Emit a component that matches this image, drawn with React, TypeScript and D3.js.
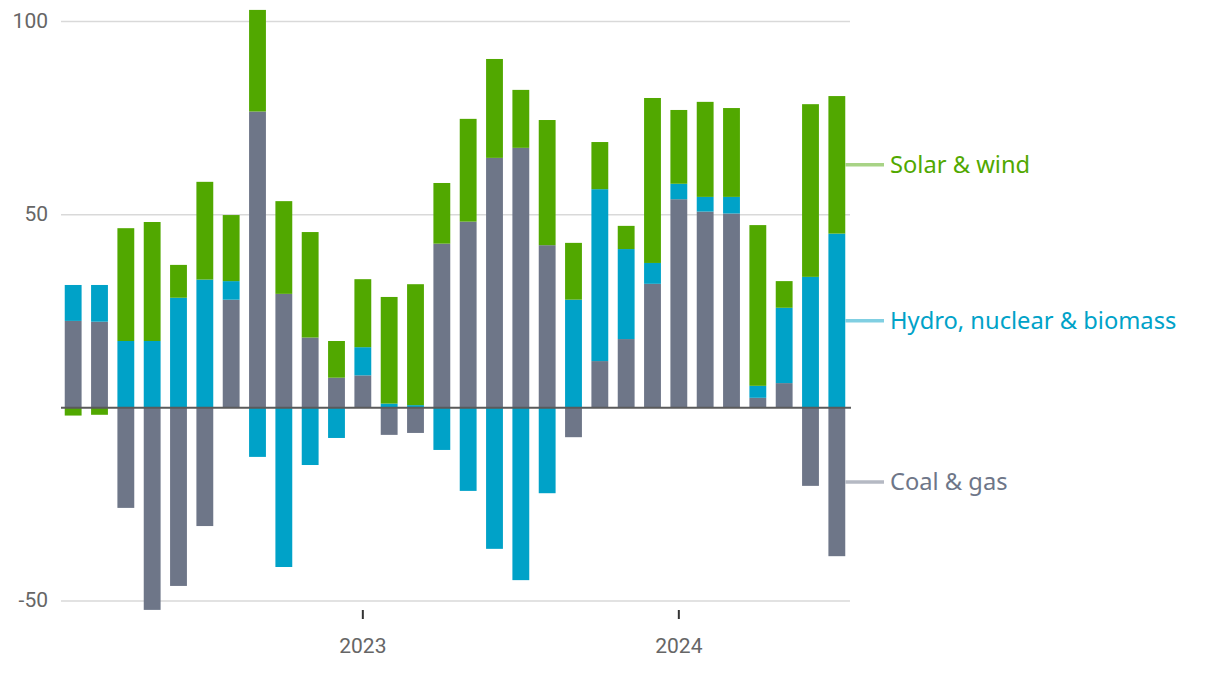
import React, { useEffect } from 'react'
import * as d3 from 'd3'

// monthly change, Feb 2022 .. Jul 2024
const months = [
  '2022-02', '2022-03', '2022-04', '2022-05', '2022-06', '2022-07', '2022-08', '2022-09', '2022-10', '2022-11', '2022-12',
  '2023-01', '2023-02', '2023-03', '2023-04', '2023-05', '2023-06', '2023-07', '2023-08', '2023-09', '2023-10', '2023-11', '2023-12',
  '2024-01', '2024-02', '2024-03', '2024-04', '2024-05', '2024-06', '2024-07'
]

const coalGas = [
  22.5, 22.3, -25.9, -52.3, -46.1, -30.6, 28.0, 76.7, 29.5, 18.2, 7.8,
  8.4, -7.0, -6.5, 42.5, 48.2, 64.7, 67.3, 42.1, -7.6, 12.1, 17.8, 32.1,
  54.0, 50.8, 50.3, 2.6, 6.4, -20.2, -38.4
]

const hydroNuclearBiomass = [
  9.3, 9.5, 17.3, 17.3, 28.5, 33.2, 4.8, -12.7, -41.2, -14.8, -7.8,
  7.3, 1.1, 0.7, -10.9, -21.5, -36.5, -44.6, -22.1, 28.0, 44.5, 23.3, 5.4,
  4.0, 3.8, 4.3, 3.1, 19.5, 33.9, 45.1
]

const solarWind = [
  -2.0, -1.8, 29.2, 30.8, 8.5, 25.3, 17.1, 26.3, 24.0, 27.3, 9.5,
  17.6, 27.6, 31.3, 15.7, 26.6, 25.6, 15.0, 32.4, 14.7, 12.2, 6.0, 42.7,
  19.1, 24.6, 23.0, 41.6, 6.9, 44.7, 35.6
]

const yTicks = [100, 50, -50]
const xTickMonths = ['2023-01', '2024-01']

const seriesInfo = [
  { key: 'coal', label: 'Coal & gas', color: '#6e7688', text: '#6e7688', legendLine: '#b5b9c3', values: coalGas },
  { key: 'hydro', label: 'Hydro, nuclear & biomass', color: '#00a2c8', text: '#00a2c8', legendLine: '#80cfe2', values: hydroNuclearBiomass },
  { key: 'solar', label: 'Solar & wind', color: '#51a800', text: '#51a800', legendLine: '#a8d386', values: solarWind }
]

const W = 1220
const H = 674
const FONT = 'Roboto, "Noto Sans", sans-serif'
const LEGEND_FONT = '"Noto Sans", Roboto, sans-serif'

export default function App() {
  useEffect(() => {
    document.body.style.margin = '0'
  }, [])

  const rows = months.map((m, i) => {
    const r: any = { month: m }
    seriesInfo.forEach(s => { r[s.key] = s.values[i] })
    return r
  })

  const stacked = d3.stack<any>()
    .keys(seriesInfo.map(s => s.key))
    .offset(d3.stackOffsetDiverging)(rows)

  const x = d3.scaleBand<string>()
    .domain(months)
    .range([60, 850])
    .paddingInner(0.36)
    .paddingOuter(0.18)

  const y = d3.scaleLinear().domain([-50, 100]).range([601, 21.5])

  const last = months[months.length - 1]
  const lastIdx = months.length - 1

  return (
    <svg width={W} height={H} style={{ display: 'block', background: '#fff' }} fontFamily={FONT}>
      {/* gridlines */}
      {yTicks.map(t => (
        <line key={t} x1={61} x2={850} y1={y(t)} y2={y(t)} stroke="#d9d9d9" strokeWidth={1.5} />
      ))}
      {yTicks.map(t => (
        <text key={'l' + t} x={48} y={y(t)} dy="0.3em" textAnchor="end" fontSize={21} fill="#666">
          {t}
        </text>
      ))}

      {/* bars */}
      {stacked.map((layer, li) => (
        <g key={layer.key} fill={seriesInfo[li].color}>
          {layer.map((d, i) => {
            const y0 = y(Math.max(d[0], d[1]))
            const y1 = y(Math.min(d[0], d[1]))
            return (
              <rect key={i} x={x(months[i])} width={x.bandwidth()} y={y0} height={Math.max(0, y1 - y0)} />
            )
          })}
        </g>
      ))}

      {/* zero line */}
      <line x1={61} x2={851} y1={y(0)} y2={y(0)} stroke="#5a5a5a" strokeWidth={2} />

      {/* x ticks */}
      {xTickMonths.map(m => {
        const cx = (x(m) as number) + x.bandwidth() / 2
        return (
          <g key={m}>
            <line x1={cx} x2={cx} y1={610} y2={619} stroke="#333" strokeWidth={2} />
            <text x={cx} y={653} textAnchor="middle" fontSize={21} fill="#666">{m.slice(0, 4)}</text>
          </g>
        )
      })}

      {/* direct labels at the middle of the last bar's segments */}
      {stacked.map((layer, li) => {
        const d = layer[lastIdx]
        const yy = y((d[0] + d[1]) / 2)
        const s = seriesInfo[li]
        const x0 = (x(last) as number) + x.bandwidth()
        return (
          <g key={'lg' + s.key}>
            <line x1={x0} x2={884} y1={yy} y2={yy} stroke={s.legendLine} strokeWidth={3.5} />
            <text x={890} y={yy} dy="0.35em" fontSize={23.7} fontFamily={LEGEND_FONT} fill={s.text}>{s.label}</text>
          </g>
        )
      })}
    </svg>
  )
}
